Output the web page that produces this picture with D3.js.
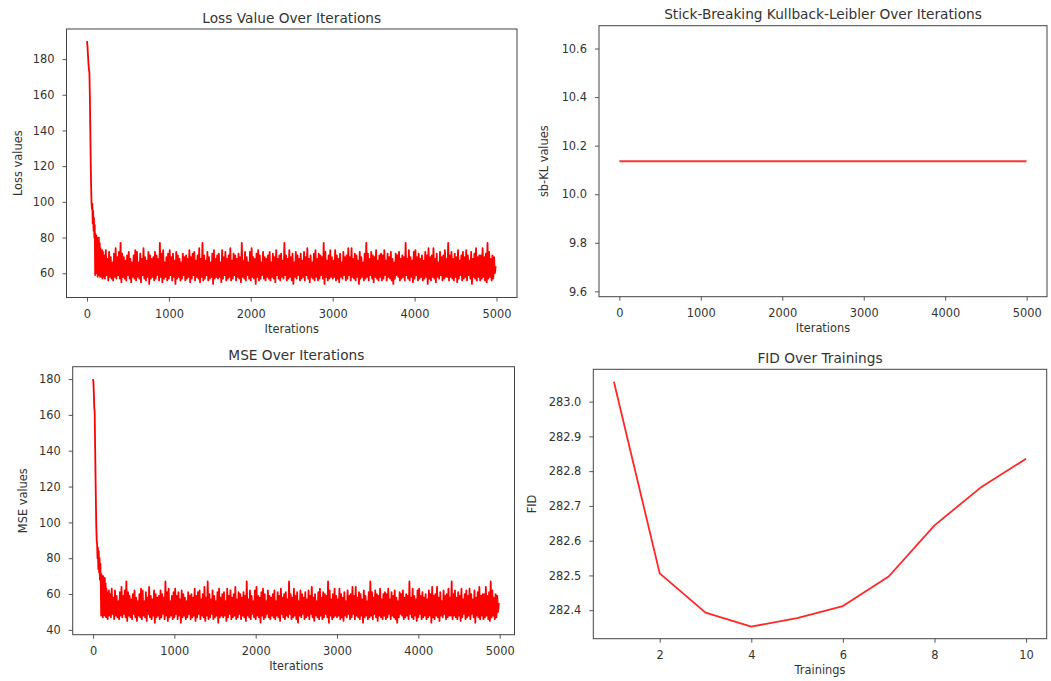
<!DOCTYPE html>
<html>
<head>
<meta charset="utf-8">
<script src="https://cdn.jsdelivr.net/npm/d3@7"></script>
<style>
  body { margin: 0; background: #fff; }
  svg text { font-family: "DejaVu Sans", sans-serif; fill: #333; }
</style>
</head>
<body>
<div id="chart"></div>
<script>
// head: one value every 5 iterations (0..195)
// tail: from iteration 200, one low and one high reading per 20 iterations
const HEAD_STEP = 5;
const TAIL_START = 200;
const TAIL_STEP = 20;

const lossHead = [190, 188, 184, 180, 176, 174, 172, 160, 142, 125, 110, 100, 96, 99, 88, 95, 84, 91, 80, 87,
  59, 82, 62, 81, 60, 80, 58, 79, 61, 80, 59, 77, 58, 74, 60, 70, 58, 73, 57, 72];
const lossLow = [
  58, 57, 59, 56, 58, 57, 56, 58, 57, 59,
  57, 55, 58, 57, 56, 59, 57, 55, 58, 57,
  56, 58, 57, 55, 59, 57, 56, 58, 54, 57,
  58, 56, 57, 59, 56, 58, 55, 57, 58, 56,
  57, 59, 56, 58, 54, 57, 58, 56, 57, 59,
  56, 57, 58, 55, 57, 59, 56, 58, 57, 55,
  58, 56, 57, 59, 56, 57, 58, 54, 57, 58,
  57, 58, 55, 57, 59, 56, 57, 58, 56, 57,
  59, 56, 58, 57, 55, 58, 57, 56, 59, 57,
  56, 58, 57, 54, 58, 56, 57, 59, 57, 56,
  58, 57, 56, 58, 57, 55, 59, 57, 56, 58,
  57, 59, 56, 57, 58, 56, 54, 58, 57, 59,
  56, 57, 58, 56, 59, 57, 55, 58, 57, 56,
  58, 56, 57, 59, 57, 54, 58, 56, 57, 58,
  57, 58, 56, 57, 55, 58, 57, 59, 56, 57,
  59, 56, 58, 57, 56, 58, 54, 57, 58, 56,
  57, 58, 56, 59, 57, 55, 58, 57, 56, 58,
  56, 57, 59, 56, 58, 57, 56, 54, 57, 59,
  58, 56, 57, 58, 56, 59, 57, 56, 58, 55,
  57, 59, 56, 57, 58, 56, 57, 58, 54, 57,
  56, 58, 57, 55, 58, 57, 59, 56, 57, 58,
  58, 56, 58, 57, 56, 58, 55, 57, 59, 56,
  57, 58, 56, 59, 57, 54, 58, 57, 56, 58,
  56, 57, 58, 56, 55, 57, 58, 56, 57, 60];
const lossHigh = [
  70, 73, 68, 72, 69, 66, 71, 74, 69, 72,
  77, 71, 69, 67, 70, 72, 68, 66, 70, 73,
  72, 66, 71, 68, 74, 69, 67, 72, 70, 68,
  69, 72, 70, 68, 77, 71, 73, 66, 69, 71,
  73, 69, 71, 67, 72, 70, 68, 66, 71, 69,
  70, 68, 73, 69, 71, 72, 67, 70, 74, 68,
  77, 70, 67, 72, 69, 66, 71, 73, 68, 70,
  71, 66, 73, 69, 72, 68, 70, 74, 67, 71,
  70, 68, 71, 69, 77, 67, 72, 69, 66, 72,
  74, 69, 68, 71, 73, 70, 66, 72, 69, 68,
  70, 72, 66, 71, 69, 73, 68, 70, 71, 67,
  77, 70, 68, 73, 69, 71, 66, 72, 70, 68,
  71, 67, 72, 69, 74, 68, 70, 66, 71, 73,
  68, 71, 70, 69, 77, 72, 67, 70, 73, 69,
  67, 73, 70, 68, 71, 66, 72, 69, 70, 74,
  69, 74, 68, 71, 70, 67, 72, 69, 66, 71,
  77, 71, 68, 72, 70, 69, 73, 67, 70, 71,
  70, 73, 67, 71, 69, 72, 68, 66, 71, 70,
  72, 68, 70, 69, 77, 68, 73, 69, 67, 72,
  73, 69, 71, 68, 70, 67, 72, 70, 74, 69,
  70, 74, 68, 71, 66, 72, 69, 70, 73, 68,
  77, 70, 72, 68, 71, 69, 73, 67, 70, 72,
  69, 73, 70, 67, 72, 68, 71, 74, 69, 70,
  70, 74, 69, 71, 77, 72, 68, 70, 69, 64];

const mseHead = [180, 178, 172, 164, 162, 145, 128, 112, 98, 90, 88, 80, 86, 74, 84, 72, 80, 68, 77, 66,
  48, 71, 50, 69, 47, 70, 49, 68, 48, 69, 50, 66, 47, 63, 49, 61, 46, 60, 48, 62];
const mseLow = [
  48, 47, 49, 46, 48, 47, 46, 48, 47, 49,
  47, 45, 48, 47, 46, 49, 47, 45, 48, 47,
  46, 48, 47, 45, 49, 47, 46, 48, 44, 47,
  48, 46, 47, 49, 46, 48, 45, 47, 48, 46,
  47, 49, 46, 48, 44, 47, 48, 46, 47, 49,
  46, 47, 48, 45, 47, 49, 46, 48, 47, 45,
  48, 46, 47, 49, 46, 47, 48, 44, 47, 48,
  47, 48, 45, 47, 49, 46, 47, 48, 46, 47,
  49, 46, 48, 47, 45, 48, 47, 46, 49, 47,
  46, 48, 47, 44, 48, 46, 47, 49, 47, 46,
  48, 47, 46, 48, 47, 45, 49, 47, 46, 48,
  47, 49, 46, 47, 48, 46, 44, 48, 47, 49,
  46, 47, 48, 46, 49, 47, 45, 48, 47, 46,
  48, 46, 47, 49, 47, 44, 48, 46, 47, 48,
  47, 48, 46, 47, 45, 48, 47, 49, 46, 47,
  49, 46, 48, 47, 46, 48, 44, 47, 48, 46,
  47, 48, 46, 49, 47, 45, 48, 47, 46, 48,
  46, 47, 49, 46, 48, 47, 46, 44, 47, 49,
  48, 46, 47, 48, 46, 49, 47, 46, 48, 45,
  47, 49, 46, 47, 48, 46, 47, 48, 44, 47,
  46, 48, 47, 45, 48, 47, 49, 46, 47, 48,
  48, 46, 48, 47, 46, 48, 45, 47, 49, 46,
  47, 48, 46, 49, 47, 44, 48, 47, 46, 48,
  46, 47, 48, 46, 45, 47, 48, 46, 47, 50];
const mseHigh = [
  60, 63, 58, 62, 59, 56, 61, 64, 59, 62,
  67, 61, 59, 57, 60, 62, 58, 56, 60, 63,
  62, 56, 61, 58, 64, 59, 57, 62, 60, 58,
  59, 62, 60, 58, 67, 61, 63, 56, 59, 61,
  63, 59, 61, 57, 62, 60, 58, 56, 61, 59,
  60, 58, 63, 59, 61, 62, 57, 60, 64, 58,
  67, 60, 57, 62, 59, 56, 61, 63, 58, 60,
  61, 56, 63, 59, 62, 58, 60, 64, 57, 61,
  60, 58, 61, 59, 67, 57, 62, 59, 56, 62,
  64, 59, 58, 61, 63, 60, 56, 62, 59, 58,
  60, 62, 56, 61, 59, 63, 58, 60, 61, 57,
  67, 60, 58, 63, 59, 61, 56, 62, 60, 58,
  61, 57, 62, 59, 64, 58, 60, 56, 61, 63,
  58, 61, 60, 59, 67, 62, 57, 60, 63, 59,
  57, 63, 60, 58, 61, 56, 62, 59, 60, 64,
  59, 64, 58, 61, 60, 57, 62, 59, 56, 61,
  67, 61, 58, 62, 60, 59, 63, 57, 60, 61,
  60, 63, 57, 61, 59, 62, 58, 56, 61, 60,
  62, 58, 60, 59, 67, 58, 63, 59, 57, 62,
  63, 59, 61, 58, 60, 57, 62, 60, 64, 59,
  60, 64, 58, 61, 56, 62, 59, 60, 63, 58,
  67, 60, 62, 58, 61, 59, 63, 57, 60, 62,
  59, 63, 60, 57, 62, 58, 61, 64, 59, 60,
  60, 64, 59, 61, 67, 62, 58, 60, 59, 55];

const klIterations = [0, 4999];
const klValues = [10.136, 10.136];

const trainings = [1, 2, 3, 4, 5, 6, 7, 8, 9, 10];
const fidValues = [283.057, 282.506, 282.393, 282.353, 282.377, 282.412, 282.497, 282.644, 282.752, 282.836];

const iterTicks = [0, 1000, 2000, 3000, 4000, 5000];
const lossTicks = [60, 80, 100, 120, 140, 160, 180];
const klTicks = [9.6, 9.8, 10.0, 10.2, 10.4, 10.6];
const mseTicks = [40, 60, 80, 100, 120, 140, 160, 180];
const trainingTicks = [2, 4, 6, 8, 10];
const fidTicks = [282.4, 282.5, 282.6, 282.7, 282.8, 282.9, 283.0];

function toSeries(head, low, high) {
  const pts = head.map((v, i) => [i * HEAD_STEP, v]);
  low.forEach((v, i) => {
    const it = TAIL_START + i * TAIL_STEP;
    pts.push([it, v]);
    pts.push([it + TAIL_STEP / 2, high[i]]);
  });
  return pts;
}

const svg = d3.select("#chart").append("svg")
  .attr("width", 1051)
  .attr("height", 681);

// the MSE panel is cut off on its right side, like the reference
svg.append("defs").append("clipPath")
  .attr("id", "clipMse")
  .append("rect")
  .attr("x", 0).attr("y", 330).attr("width", 515).attr("height", 351);

function drawPanel(cfg) {
  const g = svg.append("g");
  if (cfg.clip) g.attr("clip-path", `url(#${cfg.clip})`);
  const x = d3.scaleLinear().domain(cfg.xDomain).range([cfg.left, cfg.right]);
  const y = d3.scaleLinear().domain(cfg.yDomain).range([cfg.bottom, cfg.top]);

  const xAxis = g.append("g")
    .attr("transform", "translate(0," + cfg.bottom + ")")
    .call(d3.axisBottom(x).tickValues(cfg.xTicks).tickSize(4).tickPadding(8).tickFormat(cfg.xFormat || d3.format("d")));
  const yAxis = g.append("g")
    .attr("transform", "translate(" + cfg.left + ",0)")
    .call(d3.axisLeft(y).tickValues(cfg.yTicks).tickSize(4).tickPadding(8).tickFormat(cfg.yFormat || d3.format("d")));
  [xAxis, yAxis].forEach((a) => {
    a.select(".domain").remove();
    a.attr("font-size", null).attr("font-family", null);
    a.selectAll("text").style("font-size", "11.4px");
    a.selectAll("line").attr("stroke", "#444").attr("stroke-width", 0.9);
  });

  const line = d3.line()
    .x((d) => x(d[0]))
    .y((d) => y(d[1]));
  g.append("path")
    .attr("d", line(cfg.data))
    .attr("fill", "none")
    .attr("stroke", "#ff0000")
    .attr("stroke-opacity", cfg.lineOpacity || 1)
    .attr("stroke-width", cfg.lineWidth || 1.5)
    .attr("stroke-linejoin", "round");

  const frameRight = cfg.frameRight || cfg.right;
  g.append("rect")
    .attr("x", cfg.left)
    .attr("y", cfg.top)
    .attr("width", frameRight - cfg.left)
    .attr("height", cfg.bottom - cfg.top)
    .attr("fill", "none")
    .attr("stroke", "#444")
    .attr("stroke-width", 1);

  g.append("text")
    .attr("x", (cfg.left + cfg.right) / 2)
    .attr("y", cfg.top - 6.5)
    .attr("text-anchor", "middle")
    .style("font-size", "13.7px")
    .text(cfg.title);

  g.append("text")
    .attr("x", (cfg.left + cfg.right) / 2)
    .attr("y", cfg.bottom + 35)
    .attr("text-anchor", "middle")
    .style("font-size", "11.4px")
    .text(cfg.xLabel);

  const ly = (cfg.top + cfg.bottom) / 2;
  g.append("text")
    .attr("transform", "translate(" + (cfg.left - cfg.yLabelOffset) + "," + ly + ") rotate(-90)")
    .attr("dy", "0.35em")
    .attr("text-anchor", "middle")
    .style("font-size", "11.4px")
    .text(cfg.yLabel);
}

drawPanel({
  title: "Loss Value Over Iterations", xLabel: "Iterations", yLabel: "Loss values",
  left: 66.5, right: 517, top: 29, bottom: 297.5, yLabelOffset: 49,
  xDomain: [-250, 5250], yDomain: [46.4, 196.85],
  xTicks: iterTicks, yTicks: lossTicks,
  data: toSeries(lossHead, lossLow, lossHigh), lineWidth: 1.8
});

drawPanel({
  title: "Stick-Breaking Kullback-Leibler Over Iterations", xLabel: "Iterations", yLabel: "sb-KL values",
  left: 599, right: 1047, top: 25.7, bottom: 296.7, yLabelOffset: 54.7,
  xDomain: [-250, 5250], yDomain: [9.578, 10.694],
  xTicks: iterTicks, yTicks: klTicks, yFormat: d3.format(".1f"),
  data: klIterations.map((it, i) => [it, klValues[i]]),
  lineOpacity: 0.8, lineWidth: 2
});

drawPanel({
  title: "MSE Over Iterations", xLabel: "Iterations", yLabel: "MSE values",
  left: 72.7, right: 520, frameRight: 514.5, top: 366.7, bottom: 634.7, yLabelOffset: 49.4,
  xDomain: [-250, 5250], yDomain: [37.3, 186.9],
  xTicks: iterTicks, yTicks: mseTicks, clip: "clipMse",
  data: toSeries(mseHead, mseLow, mseHigh), lineWidth: 1.8
});

drawPanel({
  title: "FID Over Trainings", xLabel: "Trainings", yLabel: "FID",
  left: 593.3, right: 1046.7, top: 369.3, bottom: 638.7, yLabelOffset: 61.6,
  xDomain: [0.55, 10.45], yDomain: [282.318, 283.093],
  xTicks: trainingTicks, yTicks: fidTicks, yFormat: d3.format(".1f"),
  data: trainings.map((t, i) => [t, fidValues[i]]),
  lineOpacity: 0.85, lineWidth: 1.8
});
</script>
</body>
</html>
